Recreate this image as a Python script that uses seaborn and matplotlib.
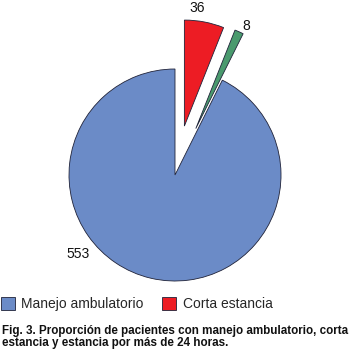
import numpy as np
import seaborn as sns
import matplotlib.pyplot as plt

# data
categories = ['Manejo ambulatorio', 'Más de 24 horas', 'Corta estancia']
values = [553, 8, 36]
colors = ['#6B8BC7', '#4A9A6E', '#ED1C24']
explode = [0, 0.48, 0.47]
legend_items = ['Manejo ambulatorio', 'Corta estancia']
caption = ('Fig. 3. Proporción de pacientes con manejo ambulatorio, corta\n'
           'estancia y estancia por más de 24 horas.')

sns.set_theme(style='white')
plt.rcParams['font.family'] = ['Liberation Sans', 'DejaVu Sans']

fig = plt.figure(figsize=(3.5, 3.57), dpi=100)
R = 106.0
ax = fig.add_axes([0, 0, 1, 1])
ax.set_aspect('equal')
ax.axis('off')

wedges, texts = ax.pie(values, colors=colors, explode=explode, startangle=90,
                       counterclock=True, labels=[str(v) for v in values],
                       labeldistance=1.1, radius=1,
                       wedgeprops=dict(edgecolor='#1f2238', linewidth=0.6),
                       textprops=dict(fontsize=10, color='#111111'))
ax.set_xlim(-175 / R, 175 / R)
ax.set_ylim(-182 / R, 175 / R)

# label placement (angle, distance) measured from each wedge's own centre
label_place = [(219, 1.18), (64, 1.08), (84, 1.12)]
for w, t, (a, d) in zip(wedges, texts, label_place):
    cx, cy = w.center
    r = np.deg2rad(a)
    t.set_position((cx + d * np.cos(r), cy + d * np.sin(r)))
    t.set_ha('center')
    t.set_va('center')

handles = [wedges[0], wedges[2]]
fig.legend(handles, legend_items, loc='center left', bbox_to_anchor=(-0.014, 0.148),
           ncol=2, frameon=False, fontsize=10, handlelength=1.0, handleheight=1.0,
           handletextpad=0.5, columnspacing=1.3, borderaxespad=0)

fig.text(0.006, 0.057, caption, fontsize=8.4, fontweight='bold',
         ha='left', va='center', linespacing=0.98, color='#111111')

fig.savefig('out.png', dpi=100)
